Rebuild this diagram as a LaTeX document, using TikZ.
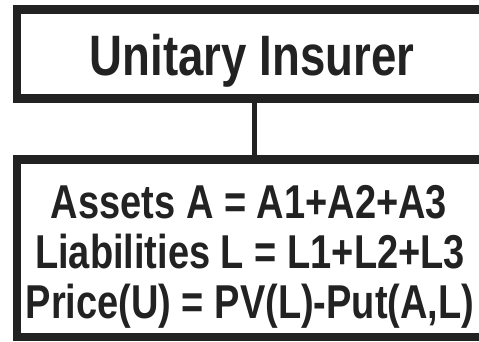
\documentclass[tikz,border=0pt]{standalone}
\usepackage{fontspec}
\newfontfamily\boxfont[FakeStretch=0.8]{Liberation Sans}
\definecolor{ink}{RGB}{34, 34, 34}
\usepackage{tikz}
\usetikzlibrary{positioning}

\begin{document}
\begin{tikzpicture}[x=1pt, y=1pt,
        box/.style={rectangle, draw=ink, line width=8.5pt,
                    minimum width=474pt},
        txt/.style={font=\boxfont\bfseries\fontsize{47.5}{50}\selectfont,
                    text=ink, anchor=base},
        link/.style={draw=ink, line width=5pt},
      ]
        \clip (0,0) rectangle (479,341);

        \node[box, minimum height=89pt]    (unit)  at (254, 287)   {};
        \node[box, minimum height=177.5pt] (parts) at (254, 92.75) {};

        \node[txt, font=\boxfont\bfseries\fontsize{57}{60}\selectfont]
          (name) at (252, 266) {Unitary Insurer};

        \node[txt] (assets) at (249, 123) {Assets A = A1+A2+A3};
        \node[txt] (liab)   at (250, 73)  {Liabilities L = L1+L2+L3};
        \node[txt] (price)  at (250, 23)  {Price(U) = PV(L)-Put(A,L)};

        \draw[link] (unit.south) -- (parts.north);
      \end{tikzpicture}
\end{document}
